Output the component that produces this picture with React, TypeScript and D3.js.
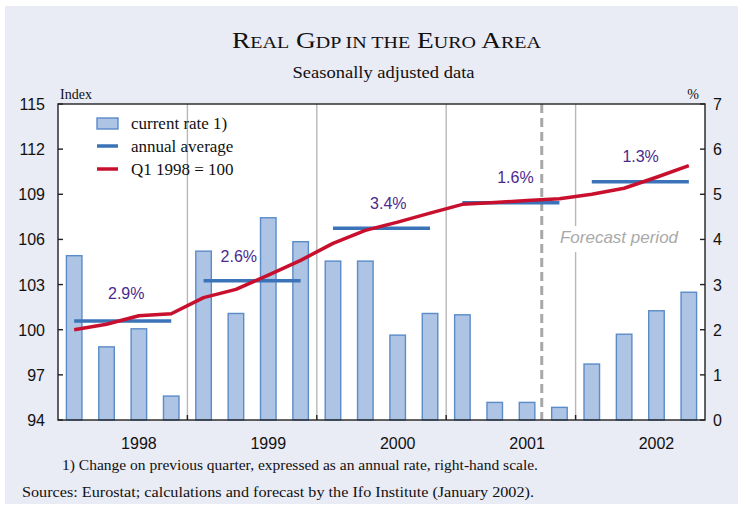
import React from "react";
import * as d3 from "d3";

// quarters 1998 Q1 .. 2002 Q4
const years = ["1998", "1999", "2000", "2001", "2002"];
const quarters = [
  "1998Q1", "1998Q2", "1998Q3", "1998Q4",
  "1999Q1", "1999Q2", "1999Q3", "1999Q4",
  "2000Q1", "2000Q2", "2000Q3", "2000Q4",
  "2001Q1", "2001Q2", "2001Q3", "2001Q4",
  "2002Q1", "2002Q2", "2002Q3", "2002Q4",
];
// current rate (annualised q/q change, right-hand scale, %)
const currentRate = [
  3.64, 1.62, 2.02, 0.53,
  3.74, 2.36, 4.48, 3.95,
  3.52, 3.52, 1.88, 2.36,
  2.33, 0.39, 0.39, 0.28,
  1.24, 1.9, 2.42, 2.83,
];
// real GDP index, Q1 1998 = 100 (left-hand scale)
const gdpIndex = [
  100.0, 100.36, 100.93, 101.06,
  102.13, 102.68, 103.63, 104.61,
  105.74, 106.6, 107.15, 107.75,
  108.33, 108.46, 108.58, 108.71,
  109.0, 109.4, 110.13, 110.9,
];
// annual averages (index level) and their growth labels
const annualAverage = [100.58, 103.26, 106.74, 108.44, 109.84];
const annualLabels = ["2.9%", "2.6%", "3.4%", "1.6%", "1.3%"];
// where each label sits: quarter index and index level of its baseline
const labelQuarter = [1.61, 5.09, 9.71, 13.64, 17.51];
const labelLevel = [102.02, 104.48, 108.0, 109.73, 111.13];
const forecastStart = "2001Q4";

const leftTicks = [94, 97, 100, 103, 106, 109, 112, 115];
const rightTicks = [0, 1, 2, 3, 4, 5, 6, 7];

const W = 743;
const H = 508;
const margin = { top: 104, right: 38, bottom: 88, left: 58 };

const serif = "'Liberation Serif', 'Times New Roman', serif";
const sans = "'Liberation Sans', Arial, sans-serif";

export default function App() {
  const x0 = margin.left;
  const x1 = W - margin.right;
  const y0 = H - margin.bottom;
  const y1 = margin.top;

  const x = d3.scaleBand().domain(quarters).range([x0, x1]).padding(0);
  const bw = x.bandwidth();
  const cx = (q: string) => (x(q) as number) + bw / 2;
  const xq = (i: number) => x0 + bw * (i + 0.5);

  const yL = d3.scaleLinear().domain([94, 115]).range([y0, y1]);
  const yR = d3.scaleLinear().domain([0, 7]).range([y0, y1]);

  const line = d3
    .line<number>()
    .x((_, i) => cx(quarters[i]))
    .y((d) => yL(d));

  const barW = bw * 0.48;
  const fx = (x(forecastStart) as number) - 1.5;

  return (
    <svg
      width={W}
      height={H}
      style={{ position: "absolute", left: 0, top: 0, display: "block" }}
    >
      <rect x={0} y={0} width={W} height={H} fill="#ffffff" />
      <rect x={5} y={6} width={W - 10} height={H - 10} fill="#e9ebf5" />

      {/* title */}
      <text
        x={232}
        y={48}
        fontFamily={serif}
        fontSize={24}
        fill="#111"
        textLength={309}
        lengthAdjust="spacingAndGlyphs"
      >
        R<tspan fontSize={17.5}>EAL</tspan> G<tspan fontSize={17.5}>DP IN THE</tspan> E
        <tspan fontSize={17.5}>URO</tspan> A<tspan fontSize={17.5}>REA</tspan>
      </text>
      <text
        x={292.5}
        y={78}
        fontFamily={serif}
        fontSize={17}
        fill="#111"
        textLength={182}
        lengthAdjust="spacingAndGlyphs"
      >
        Seasonally adjusted data
      </text>

      {/* plot area */}
      <rect x={x0} y={y1} width={x1 - x0} height={y0 - y1} fill="#ffffff" />

      {/* year separators */}
      {years.slice(1).map((yr) => {
        const gx = x(yr + "Q1") as number;
        return (
          <g key={yr}>
            <line x1={gx} x2={gx} y1={y1} y2={y0} stroke="#b8b8b8" strokeWidth={1.4} />
            <line x1={gx} x2={gx} y1={y0 - 5} y2={y0} stroke="#222" strokeWidth={1.4} />
          </g>
        );
      })}

      {/* forecast marker */}
      <line x1={fx} x2={fx} y1={y1} y2={y0} stroke="#a8a8a8" strokeWidth={3} strokeDasharray="9,5" />
      <rect x={556} y={226} width={126} height={26} fill="#ffffff" />
      <text
        x={619}
        y={243}
        textAnchor="middle"
        fontFamily={sans}
        fontStyle="italic"
        fontSize={17}
        fill="#a9a9a9"
      >
        Forecast period
      </text>

      {/* bars */}
      {currentRate.map((v, i) => (
        <rect
          key={quarters[i]}
          x={cx(quarters[i]) - barW / 2}
          y={yR(v)}
          width={barW}
          height={yR(0) - yR(v)}
          fill="#adc4e4"
          stroke="#5b8bc9"
          strokeWidth={1.4}
        />
      ))}

      {/* annual averages */}
      {annualAverage.map((v, i) => (
        <line
          key={years[i]}
          x1={cx(years[i] + "Q1")}
          x2={cx(years[i] + "Q4")}
          y1={yL(v)}
          y2={yL(v)}
          stroke="#3b73b9"
          strokeWidth={3.5}
        />
      ))}

      {/* index line */}
      <path d={line(gdpIndex) || ""} fill="none" stroke="#c8102e" strokeWidth={3.5} strokeLinejoin="round" />

      {/* growth labels */}
      {annualLabels.map((t, i) => (
        <text
          key={t + i}
          x={xq(labelQuarter[i])}
          y={yL(labelLevel[i])}
          textAnchor="middle"
          fontFamily={sans}
          fontSize={16}
          fill="#4b2a8e"
        >
          {t}
        </text>
      ))}

      {/* frame */}
      <rect x={x0} y={y1} width={x1 - x0} height={y0 - y1} fill="none" stroke="#222" strokeWidth={1.4} />

      {/* left axis */}
      {leftTicks.map((t) => (
        <g key={"l" + t}>
          <line x1={x0} x2={x0 + 5} y1={yL(t)} y2={yL(t)} stroke="#222" strokeWidth={1.4} />
          <text x={45} y={yL(t) + 6} textAnchor="end" fontFamily={sans} fontSize={16} fill="#111">
            {t}
          </text>
        </g>
      ))}
      {/* right axis */}
      {rightTicks.map((t) => (
        <g key={"r" + t}>
          <line x1={x1 - 5} x2={x1} y1={yR(t)} y2={yR(t)} stroke="#222" strokeWidth={1.4} />
          <text x={713} y={yR(t) + 6} textAnchor="start" fontFamily={sans} fontSize={16} fill="#111">
            {t}
          </text>
        </g>
      ))}
      <text x={60} y={99} fontFamily={serif} fontSize={14} fill="#111">
        Index
      </text>
      <text x={699} y={99} textAnchor="end" fontFamily={serif} fontSize={14} fill="#111">
        %
      </text>

      {/* year labels */}
      {years.map((yr) => (
        <text
          key={"y" + yr}
          x={cx(yr + "Q3")}
          y={449}
          textAnchor="middle"
          fontFamily={sans}
          fontSize={16}
          fill="#111"
        >
          {yr}
        </text>
      ))}

      {/* legend */}
      <rect x={97} y={118} width={21} height={11} fill="#adc4e4" stroke="#5b8bc9" strokeWidth={1.4} />
      <line x1={97} x2={118} y1={146} y2={146} stroke="#3b73b9" strokeWidth={3.5} />
      <line x1={97} x2={118} y1={169} y2={169} stroke="#c8102e" strokeWidth={3.5} />
      <text x={131} y={129} fontFamily={serif} fontSize={17} fill="#111">
        current rate 1)
      </text>
      <text x={131} y={152} fontFamily={serif} fontSize={17} fill="#111">
        annual average
      </text>
      <text x={131} y={175} fontFamily={serif} fontSize={17} fill="#111">
        Q1 1998 = 100
      </text>

      {/* notes */}
      <text
        x={62}
        y={470}
        fontFamily={serif}
        fontSize={15}
        fill="#111"
        textLength={476}
        lengthAdjust="spacingAndGlyphs"
      >
        1) Change on previous quarter, expressed as an annual rate, right-hand scale.
      </text>
      <text
        x={22}
        y={497}
        fontFamily={serif}
        fontSize={15}
        fill="#111"
        textLength={512}
        lengthAdjust="spacingAndGlyphs"
      >
        Sources: Eurostat; calculations and forecast by the Ifo Institute (January 2002).
      </text>
    </svg>
  );
}
